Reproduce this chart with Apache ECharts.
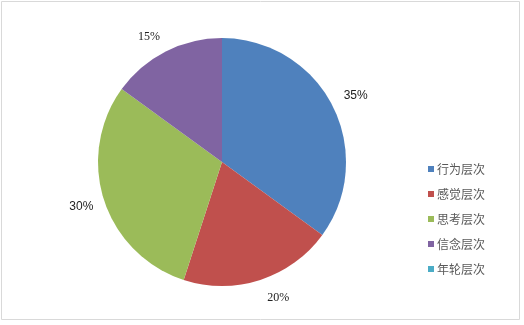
<!DOCTYPE html>
<html><head><meta charset="utf-8">
<script src="https://cdn.jsdelivr.net/npm/echarts@6/dist/echarts.min.js"></script>
<style>html,body{margin:0;padding:0;background:#fff}#c{width:524px;height:325px}</style>
</head><body><div id="c"></div>
<script>
var categories = ['行为层次','感觉层次','思考层次','信念层次','年轮层次'];
var values = [35, 20, 30, 15, 0];
var labels = ['35%','20%','30%','15%',''];
var colors = ['#4F81BD','#C0504D','#9BBB59','#8064A2','#4BACC6'];

// label styling tweaks (not data)
var labelStyle = [
  {offset:[0,2], fontFamily:'Liberation Sans'},
  {offset:[10,-7], fontFamily:'Liberation Serif'},
  {offset:[2,-2], fontFamily:'Liberation Sans'},
  {offset:[-5,8], fontFamily:'Liberation Serif'},
  {offset:[0,0], fontFamily:'Liberation Serif'}
];

var chart = echarts.init(document.getElementById('c'), null, {renderer:'canvas'});
var mainData = categories.map(function(n,i){return {name:n,value:values[i],itemStyle:{color:colors[i]}};});
var labelData = categories.map(function(n,i){
  return {name:n,value:values[i],
    label:{show:values[i]>0,formatter:labels[i],offset:labelStyle[i].offset,fontFamily:labelStyle[i].fontFamily}};
});
chart.setOption({
  animation:false,
  graphic:[{type:'rect',shape:{x:1.5,y:1.5,width:518,height:318},style:{fill:'none',stroke:'#d9d9d9',lineWidth:1}}],
  legend:{
    orient:'vertical', left:423, top:158, itemWidth:6, itemHeight:6, itemGap:13,
    icon:'rect', data:categories,
    textStyle:{color:'#595959',fontSize:12,fontFamily:'Noto Sans CJK SC',padding:[0,0,0,-2]}
  },
  series:[
    {type:'pie', center:[222,162], radius:[0,124], startAngle:90, clockwise:true,
     data:mainData, label:{show:false}, labelLine:{show:false}, silent:true,
     itemStyle:{borderWidth:0}, legendHoverLink:false},
    {type:'pie', center:[222,162], radius:[132,162], startAngle:90, clockwise:true,
     data:labelData, silent:true, legendHoverLink:false,
     itemStyle:{color:'rgba(0,0,0,0)',borderWidth:0},
     label:{show:true,position:'inside',color:'#222',fontSize:12},
     labelLine:{show:false}}
  ]
});
</script></body></html>
